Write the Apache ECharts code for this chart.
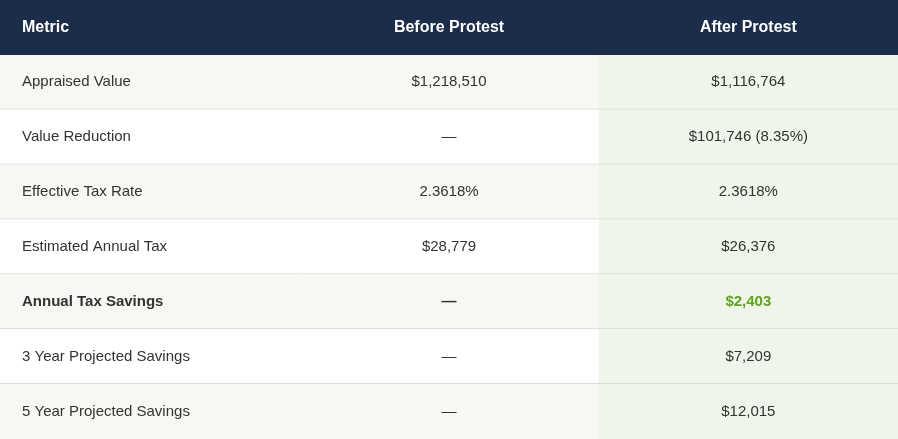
<!DOCTYPE html>
<html><head><meta charset="utf-8">
<script src="https://cdn.jsdelivr.net/npm/echarts@6/dist/echarts.min.js"></script>
<style>html,body{margin:0;padding:0;background:#fff}#chart{width:898px;height:439px}</style>
</head><body><div id="chart"></div>
<script>
const headers = ["Metric", "Before Protest", "After Protest"];
const metrics = ["Appraised Value", "Value Reduction", "Effective Tax Rate", "Estimated Annual Tax",
  "Annual Tax Savings", "3 Year Projected Savings", "5 Year Projected Savings"];
const beforeValues = ["$1,218,510", "—", "2.3618%", "$28,779", "—", "—", "—"];
const afterValues = ["$1,116,764", "$101,746 (8.35%)", "2.3618%", "$26,376", "$2,403", "$7,209", "$12,015"];
const highlightRow = 4;

let chart = echarts.init(document.getElementById("chart"));
let cells = [];
headers.forEach((h, c) => cells.push([c, 0, h]));
metrics.forEach((m, i) => {
  cells.push([0, i + 1, m]);
  cells.push([1, i + 1, beforeValues[i]]);
  cells.push([2, i + 1, afterValues[i]]);
});

chart.setOption({
  animation: false,
  grid: { left: 0, right: 0, top: 0, bottom: 0 },
  xAxis: { type: "category", data: [0, 1, 2], show: false },
  yAxis: { type: "category", data: [0, 1, 2, 3, 4, 5, 6, 7], inverse: true, show: false },
  series: [{
    type: "custom",
    data: cells,
    renderItem: function (params, api) {
      let col = api.value(0), row = api.value(1);
      let text = cells[params.dataIndex][2];
      let p = api.coord([col, row]);
      let s = api.size([1, 1]);
      let x0 = p[0] - s[0] / 2, y0 = p[1] - s[1] / 2;
      let fill;
      if (row === 0) fill = "#1b2d4a";
      else if (col === 2) fill = "#f0f5e9";
      else fill = (row % 2 === 1) ? "#f7f8f4" : "#ffffff";
      let isHead = row === 0;
      let bold = isHead || row - 1 === highlightRow;
      let color = isHead ? "#ffffff" : (row - 1 === highlightRow && col === 2 ? "#5fa31f" : "#333333");
      let children = [
        { type: "rect", shape: { x: x0, y: y0, width: s[0] + 1, height: s[1] }, style: { fill: fill } },
        { type: "text", style: {
            x: col === 0 ? x0 + 22 : p[0], y: p[1], text: text,
            textAlign: col === 0 ? "left" : "center", textVerticalAlign: "middle",
            fill: color, font: (bold ? "bold " : "") + (isHead ? "16px" : "15px") + " 'Liberation Sans', Arial, sans-serif"
          } }
      ];
      if (row > 0 && row < 7) {
        children.push({ type: "line", shape: { x1: x0, y1: y0 + s[1] - 0.5, x2: x0 + s[0] + 1, y2: y0 + s[1] - 0.5 },
          style: { stroke: "#d9d9d9", lineWidth: 1 } });
      }
      return { type: "group", children: children };
    }
  }]
});
</script></body></html>
